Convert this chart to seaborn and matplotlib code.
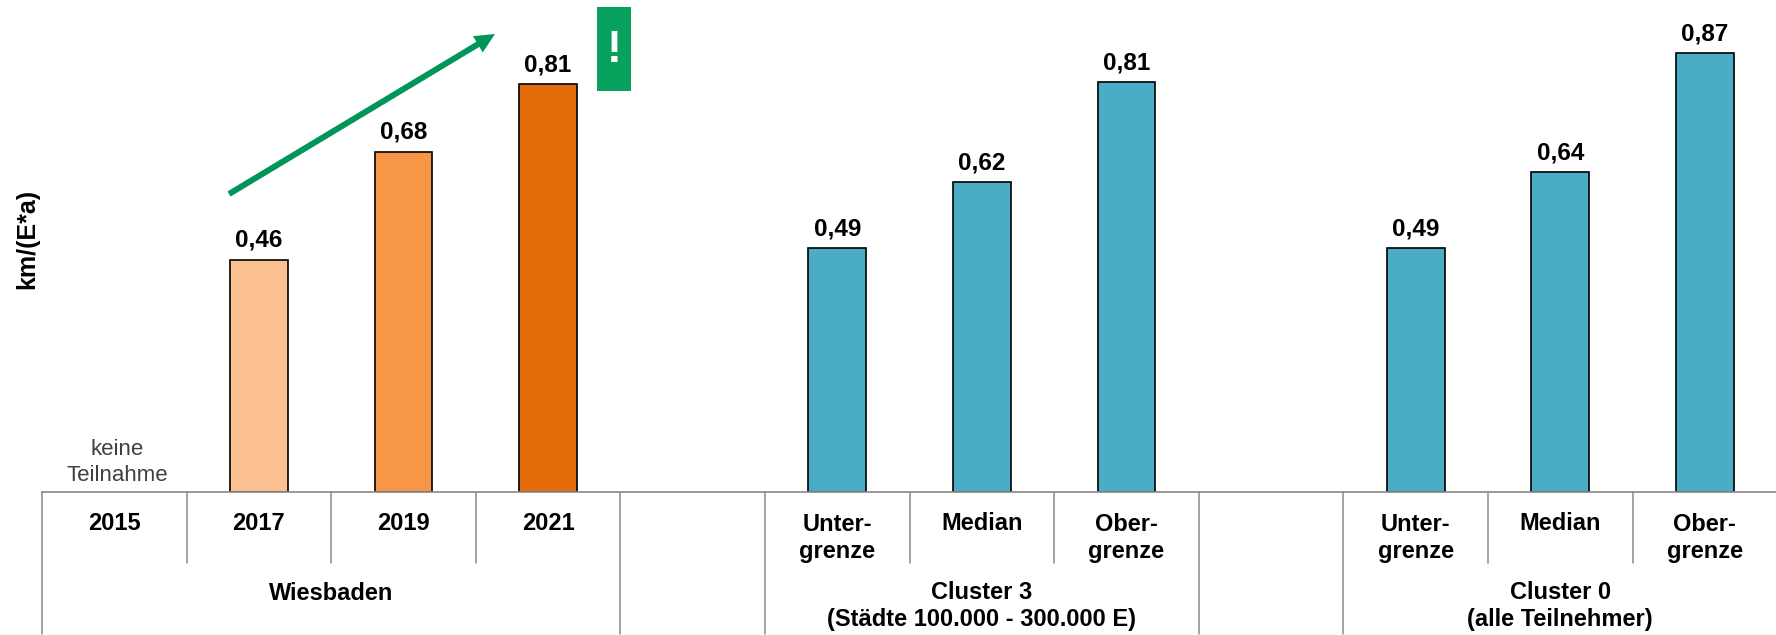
import matplotlib
matplotlib.use("Agg")
import matplotlib.pyplot as plt
import seaborn as sns
import pandas as pd
from matplotlib.patches import FancyArrow

sns.set_theme(style="white")
plt.rcParams['font.family'] = ['Liberation Sans', 'DejaVu Sans']

W, H = 1776, 635
categories = ["2015", "2017", "2019", "2021", "", "Unter-\ngrenze", "Median", "Ober-\ngrenze", "",
              "Unter-\ngrenze", "Median", "Ober-\ngrenze"]
values = [None, 0.463, 0.678, 0.812, None, 0.486, 0.617, 0.816, None, 0.486, 0.637, 0.874]
labels = ["", "0,46", "0,68", "0,81", "", "0,49", "0,62", "0,81", "", "0,49", "0,64", "0,87"]
colors = ["#ffffff", "#FBC190", "#F79646", "#E46C0A", "#ffffff", "#4BACC6", "#4BACC6", "#4BACC6",
          "#ffffff", "#4BACC6", "#4BACC6", "#4BACC6"]
group_names = ["Wiesbaden", "Cluster 3\n(Städte 100.000 - 300.000 E)", "Cluster 0\n(alle Teilnehmer)"]

df = pd.DataFrame({"pos": [str(i) for i in range(12)], "value": values})

fig = plt.figure(figsize=(W/100, H/100), dpi=100)
x0, xstep = 42, 144.6
base_y = 492
GREY = "#8c8c8c"
ax = fig.add_axes([x0/W, 1-base_y/H, 12*xstep/W, (base_y-5)/H])
sns.barplot(data=df, x="pos", y="value", hue="pos", palette=colors, legend=False,
            width=0.4, edgecolor="black", linewidth=1.2, ax=ax, order=df["pos"], saturation=1)
ax.set_xlim(-0.5, 11.5)
ax.set_ylim(0, (base_y-5) / 502.0)
ax.set_xlabel("")
ax.set_ylabel("km/(E*a)", fontsize=18, fontweight="bold", color="black", labelpad=0)
ax.yaxis.set_label_coords(-2.5/(12*xstep), (base_y-239)/(base_y-5))
ax.set_yticks([])
ax.set_xticks([])
for s in ["top", "left", "right"]:
    ax.spines[s].set_visible(False)
ax.spines["bottom"].set_color(GREY)
ax.patch.set_alpha(0)

for i, (v, l) in enumerate(zip(values, labels)):
    if v is not None:
        ax.annotate(l, (i, v), xytext=(0, 8), textcoords="offset pixels", ha="center", va="bottom",
                    fontsize=17.5, fontweight="bold", color="black")
ax.text(0.02, 0.012, "keine\nTeilnahme", ha="center", va="bottom", fontsize=16, color="#404040", linespacing=1.3)

# multi-level axis
trans = ax.get_xaxis_transform()
def ypx(p):
    return -(p-base_y)/(base_y-5)
for i, c in enumerate(categories):
    ypos = 524 if "\n" not in c else 538
    ax.text(i, ypx(ypos), c, transform=trans, ha="center", va="center",
            fontsize=17, fontweight="bold", color="black", linespacing=1.22)
for b in range(0, 13):
    bottom = 634 if b in (0, 4, 5, 8, 9, 12) else 563
    ax.plot([b-0.5, b-0.5], [0, ypx(bottom)], transform=trans, color=GREY, lw=1.1, clip_on=False)
for center, name in zip([1.5, 6, 10], group_names):
    ypos = 594 if "\n" not in name else 606
    ax.text(center, ypx(ypos), name, transform=trans, ha="center", va="center", fontsize=17,
            fontweight="bold", color="black", linespacing=1.22)

# trend arrow
ax_a = fig.add_axes([0, 0, 1, 1]); ax_a.set_xlim(0, W); ax_a.set_ylim(H, 0); ax_a.axis("off")
ax_a.add_patch(FancyArrow(229, 194, 495-229, 34-194, width=6, head_width=19, head_length=20,
                          length_includes_head=True, color="#00965A", lw=0))
ax_a.add_patch(plt.Rectangle((597, 7), 34, 84, color="#07A05C", lw=0))
ax_a.text(614, 50, "!", color="white", fontsize=32, fontweight="bold", ha="center", va="center")
fig.savefig("out.png", dpi=100)
